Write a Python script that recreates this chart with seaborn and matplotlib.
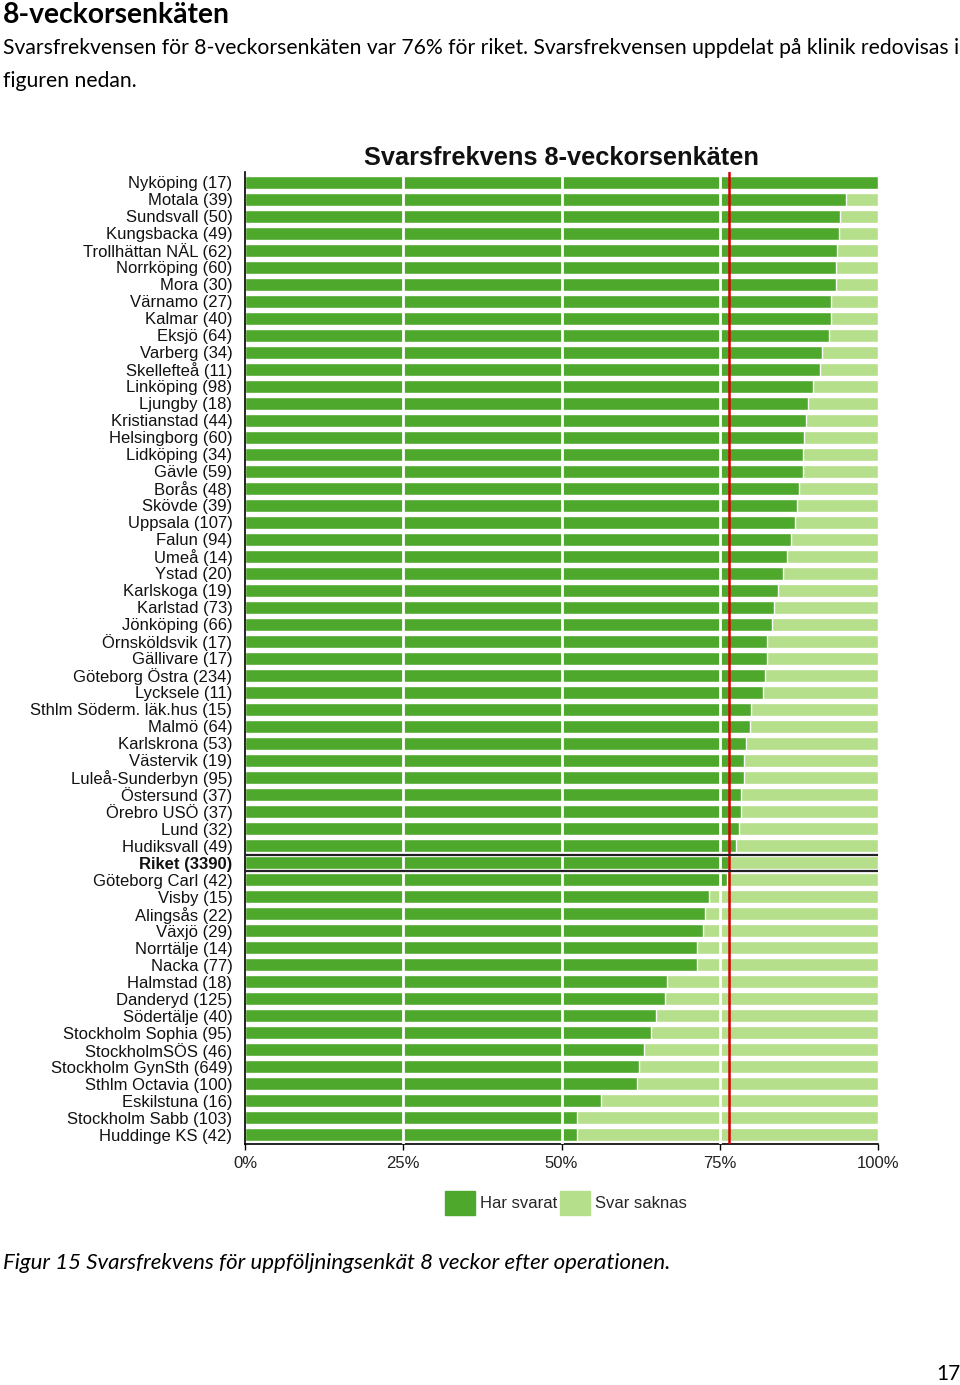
import pandas as pd
import matplotlib
matplotlib.use('Agg')
import matplotlib.pyplot as plt
from matplotlib.patches import Patch
import seaborn as sns

# clinics, number of operated patients and share that answered (%)
clinics = ['Nyköping', 'Motala', 'Sundsvall', 'Kungsbacka', 'Trollhättan NÄL', 'Norrköping',
           'Mora', 'Värnamo', 'Kalmar', 'Eksjö', 'Varberg', 'Skellefteå', 'Linköping', 'Ljungby',
           'Kristianstad', 'Helsingborg', 'Lidköping', 'Gävle', 'Borås', 'Skövde', 'Uppsala',
           'Falun', 'Umeå', 'Ystad', 'Karlskoga', 'Karlstad', 'Jönköping', 'Örnsköldsvik',
           'Gällivare', 'Göteborg Östra', 'Lycksele', 'Sthlm Söderm. läk.hus', 'Malmö',
           'Karlskrona', 'Västervik', 'Luleå-Sunderbyn', 'Östersund', 'Örebro USÖ', 'Lund',
           'Hudiksvall', 'Riket', 'Göteborg Carl', 'Visby', 'Alingsås', 'Växjö', 'Norrtälje',
           'Nacka', 'Halmstad', 'Danderyd', 'Södertälje', 'Stockholm Sophia', 'StockholmSÖS',
           'Stockholm GynSth', 'Sthlm Octavia', 'Eskilstuna', 'Stockholm Sabb', 'Huddinge KS']
counts = [17, 39, 50, 49, 62, 60, 30, 27, 40, 64, 34, 11, 98, 18, 44, 60, 34, 59, 48, 39, 107,
          94, 14, 20, 19, 73, 66, 17, 17, 234, 11, 15, 64, 53, 19, 95, 37, 37, 32, 49, 3390,
          42, 15, 22, 29, 14, 77, 18, 125, 40, 95, 46, 649, 100, 16, 103, 42]
answered = [100.0, 94.9, 94.0, 93.9, 93.5, 93.3, 93.3, 92.6, 92.5, 92.2, 91.2, 90.9, 89.8,
            88.9, 88.6, 88.3, 88.2, 88.1, 87.5, 87.2, 86.9, 86.2, 85.7, 85.0, 84.2, 83.6, 83.3,
            82.4, 82.4, 82.1, 81.8, 80.0, 79.7, 79.2, 78.9, 78.9, 78.4, 78.4, 78.1, 77.6, 76.5,
            76.2, 73.3, 72.7, 72.4, 71.4, 71.4, 66.7, 66.4, 65.0, 64.2, 63.0, 62.2, 62.0, 56.3,
            52.4, 52.4]
riket_pct = 76.5

DARK = '#4EA82B'
LIGHT = '#B6DF8B'

labels = [f'{c} ({n})' for c, n in zip(clinics, counts)]
df = pd.DataFrame({'label': labels, 'svarat': answered, 'total': [100] * len(labels)})

sns.set_theme(style='white')
plt.rcParams['font.family'] = ['Liberation Sans', 'DejaVu Sans']

fig = plt.figure(figsize=(9.6, 13.85), dpi=100)
ax = fig.add_axes([245 / 960, 1 - 1144 / 1385, 633 / 960, 972 / 1385])

sns.barplot(data=df, y='label', x='total', order=labels, color=LIGHT, saturation=1,
            width=0.76, errorbar=None, ax=ax)
sns.barplot(data=df, y='label', x='svarat', order=labels, color=DARK, saturation=1,
            width=0.76, errorbar=None, ax=ax)

# white grid over the bars, red line for the national rate
ax.vlines([25, 50, 75], -0.6, len(labels), color='white', lw=2, zorder=5)
ax.axvline(riket_pct, color='#D40000', lw=1.8, zorder=6)
r = labels.index([l for l in labels if l.startswith('Riket')][0])
ax.hlines([r - 0.47, r + 0.47], 0, 100, color='#222222', lw=1.6, zorder=7)

ax.set_xlim(0, 100)
ax.set_ylim(len(labels) - 0.45, -0.6)
ax.set_xticks([0, 25, 50, 75, 100])
ax.set_xticklabels(['0%', '25%', '50%', '75%', '100%'])
ax.set_xlabel('')
ax.set_ylabel('')
ax.tick_params(axis='x', length=4, width=1, color='black', pad=5, labelsize=12,
               labelcolor='#222222', bottom=True)
ax.tick_params(axis='y', length=0, pad=9, labelsize=12, labelcolor='#111111')
for t in ax.get_yticklabels():
    if t.get_text().startswith('Riket'):
        t.set_fontweight('bold')
for s in ['top', 'right']:
    ax.spines[s].set_visible(False)
for s in ['left', 'bottom']:
    ax.spines[s].set_color('black')
    ax.spines[s].set_linewidth(1.2)

fig.text(562 / 960, 1 - 158 / 1385, 'Svarsfrekvens 8-veckorsenkäten', ha='center', va='center',
         fontsize=18.3, fontweight='bold', color='#111111')

handles = [Patch(color=DARK, label='Har svarat'), Patch(color=LIGHT, label='Svar saknas')]
fig.legend(handles=handles, loc='center', bbox_to_anchor=(566 / 960, 1 - 1203 / 1385), ncol=2,
           frameon=False, fontsize=12, handlelength=1.8, handleheight=1.8,
           handletextpad=0.3, columnspacing=0.2)

# page text around the chart
page_font = ['Lato', 'DejaVu Sans']
fig.text(3 / 960, 1 - 15 / 1385, '8-veckorsenkäten', ha='left', va='center', fontsize=20.3,
         fontweight='bold', family=page_font, color='black')
fig.text(3 / 960, 1 - 48 / 1385,
         'Svarsfrekvensen för 8-veckorsenkäten var 76% för riket. Svarsfrekvensen uppdelat på klinik redovisas i',
         ha='left', va='center', fontsize=15.2, family=page_font, color='black')
fig.text(3 / 960, 1 - 81 / 1385, 'figuren nedan.', ha='left', va='center', fontsize=15.2,
         family=page_font, color='black')
fig.text(3 / 960, 1 - 1263 / 1385,
         'Figur 15 Svarsfrekvens för uppföljningsenkät 8 veckor efter operationen.',
         ha='left', va='center', fontsize=16, style='italic', family=page_font, color='black')
fig.text(948 / 960, 1 - 1374 / 1385, '17', ha='center', va='center', fontsize=15,
         family=page_font, color='black')

fig.savefig('out.png', dpi=100, facecolor='white')
